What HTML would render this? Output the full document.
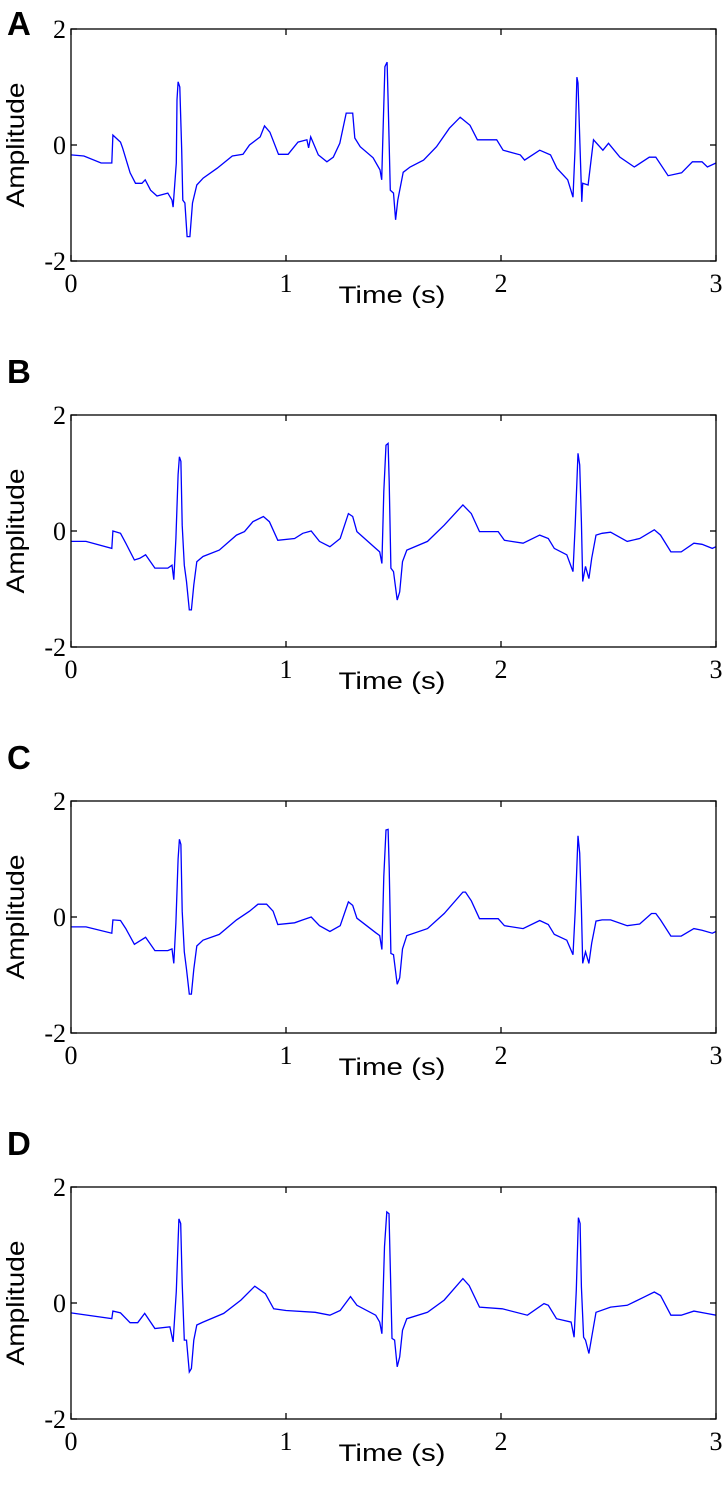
<!DOCTYPE html>
<html><head><meta charset="utf-8"><style>
html,body{margin:0;padding:0;background:#fff;}
svg{display:block;}
</style></head><body>
<svg id="fig" width="724" height="1490" viewBox="0 0 724 1490" xmlns="http://www.w3.org/2000/svg"></svg>
<script>
const panelLabels = ["A","B","C","D"];
const xTicks = [0,1,2,3];
const yTicks = [-2,0,2];
const timeA = [0,0.06,0.14,0.19,0.195,0.23,0.24,0.275,0.30,0.33,0.345,0.37,0.40,0.45,0.47,0.475,0.49,0.493,0.498,0.506,0.515,0.52,0.53,0.54,0.553,0.565,0.585,0.615,0.68,0.75,0.80,0.83,0.88,0.90,0.925,0.965,1.01,1.056,1.097,1.105,1.115,1.15,1.19,1.22,1.25,1.28,1.31,1.32,1.345,1.405,1.437,1.445,1.45,1.46,1.47,1.475,1.485,1.50,1.51,1.52,1.545,1.577,1.64,1.70,1.76,1.81,1.856,1.89,1.98,2.01,2.09,2.11,2.18,2.23,2.26,2.31,2.335,2.344,2.353,2.358,2.367,2.376,2.38,2.405,2.43,2.474,2.50,2.553,2.62,2.69,2.72,2.777,2.84,2.89,2.935,2.96,3.0];
const ampA = [-0.17,-0.19,-0.31,-0.31,0.17,0.05,-0.05,-0.48,-0.66,-0.66,-0.6,-0.78,-0.88,-0.83,-0.95,-1.07,-0.31,0.78,1.09,1.0,-0.09,-0.95,-1.0,-1.58,-1.58,-1.0,-0.69,-0.57,-0.40,-0.19,-0.16,0,0.14,0.33,0.22,-0.16,-0.16,0.05,0.09,-0.05,0.14,-0.17,-0.29,-0.21,0.03,0.55,0.55,0.12,-0.03,-0.22,-0.43,-0.6,0.09,1.35,1.43,0.78,-0.78,-0.83,-1.29,-0.95,-0.47,-0.38,-0.26,-0.03,0.29,0.48,0.34,0.09,0.09,-0.09,-0.17,-0.26,-0.09,-0.17,-0.40,-0.60,-0.90,-0.09,1.17,1.07,0.03,-0.98,-0.66,-0.69,0.09,-0.09,0.03,-0.21,-0.38,-0.21,-0.21,-0.53,-0.48,-0.29,-0.29,-0.38,-0.31];
const timeB = [0,0.07,0.19,0.195,0.23,0.255,0.295,0.32,0.347,0.39,0.45,0.47,0.478,0.488,0.498,0.504,0.511,0.517,0.527,0.537,0.55,0.56,0.571,0.585,0.614,0.69,0.77,0.807,0.846,0.895,0.923,0.962,1.04,1.078,1.117,1.156,1.204,1.252,1.29,1.31,1.33,1.417,1.436,1.446,1.455,1.465,1.475,1.48,1.488,1.5,1.517,1.529,1.542,1.562,1.658,1.736,1.823,1.862,1.9,1.987,2.016,2.103,2.18,2.22,2.248,2.306,2.335,2.345,2.358,2.366,2.374,2.38,2.393,2.409,2.422,2.442,2.47,2.51,2.587,2.645,2.713,2.742,2.79,2.838,2.897,2.935,2.983,3.0];
const ampB = [-0.18,-0.18,-0.30,0,-0.04,-0.21,-0.5,-0.47,-0.41,-0.64,-0.64,-0.59,-0.84,-0.13,0.97,1.28,1.2,0.1,-0.59,-0.87,-1.36,-1.36,-0.93,-0.53,-0.44,-0.33,-0.07,-0.01,0.16,0.25,0.16,-0.16,-0.13,-0.04,0,-0.18,-0.27,-0.13,0.3,0.25,-0.01,-0.3,-0.36,-0.56,0.68,1.48,1.51,0.85,-0.64,-0.7,-1.19,-1.05,-0.53,-0.33,-0.18,0.1,0.45,0.3,-0.01,-0.01,-0.16,-0.21,-0.07,-0.13,-0.3,-0.41,-0.7,0.1,1.34,1.14,0.16,-0.87,-0.61,-0.82,-0.47,-0.07,-0.04,-0.02,-0.18,-0.13,0.02,-0.07,-0.36,-0.36,-0.21,-0.23,-0.3,-0.27];
const timeC = [0,0.07,0.19,0.195,0.23,0.255,0.295,0.347,0.39,0.45,0.47,0.478,0.488,0.498,0.504,0.511,0.517,0.527,0.537,0.55,0.56,0.571,0.585,0.614,0.69,0.77,0.83,0.87,0.91,0.94,0.962,1.04,1.078,1.117,1.156,1.204,1.252,1.29,1.31,1.33,1.417,1.436,1.446,1.455,1.465,1.475,1.48,1.488,1.5,1.517,1.529,1.542,1.562,1.658,1.736,1.823,1.835,1.862,1.9,1.987,2.016,2.103,2.18,2.22,2.248,2.306,2.335,2.345,2.358,2.366,2.374,2.38,2.393,2.409,2.422,2.442,2.47,2.51,2.587,2.645,2.7,2.72,2.742,2.79,2.838,2.897,2.935,2.983,3.0];
const ampC = [-0.17,-0.17,-0.28,-0.05,-0.06,-0.2,-0.47,-0.35,-0.58,-0.58,-0.55,-0.8,-0.1,1.0,1.34,1.25,0.1,-0.6,-0.9,-1.33,-1.33,-0.9,-0.5,-0.4,-0.3,-0.05,0.1,0.22,0.22,0.1,-0.13,-0.1,-0.05,0,-0.15,-0.25,-0.15,0.26,0.2,-0.02,-0.27,-0.32,-0.56,0.7,1.5,1.51,0.85,-0.63,-0.65,-1.16,-1.05,-0.55,-0.32,-0.2,0.06,0.43,0.43,0.28,-0.03,-0.03,-0.15,-0.2,-0.06,-0.13,-0.3,-0.4,-0.65,0.1,1.4,1.1,0.15,-0.8,-0.6,-0.8,-0.45,-0.07,-0.05,-0.05,-0.15,-0.12,0.06,0.06,-0.05,-0.33,-0.33,-0.2,-0.23,-0.28,-0.25];
const timeD = [0,0.19,0.195,0.23,0.275,0.31,0.343,0.39,0.46,0.475,0.49,0.502,0.51,0.517,0.527,0.537,0.55,0.56,0.571,0.585,0.614,0.71,0.79,0.855,0.904,0.943,1.0,1.136,1.204,1.252,1.3,1.33,1.417,1.436,1.446,1.458,1.469,1.479,1.487,1.493,1.505,1.517,1.529,1.542,1.562,1.658,1.736,1.823,1.852,1.9,2.006,2.123,2.2,2.22,2.258,2.326,2.34,2.35,2.36,2.368,2.374,2.384,2.393,2.409,2.422,2.442,2.51,2.587,2.664,2.713,2.742,2.79,2.838,2.897,2.955,3.0];
const ampD = [-0.17,-0.27,-0.14,-0.17,-0.34,-0.34,-0.18,-0.44,-0.41,-0.67,0.2,1.45,1.37,0.33,-0.64,-0.64,-1.19,-1.13,-0.64,-0.38,-0.33,-0.18,0.05,0.29,0.16,-0.1,-0.13,-0.16,-0.21,-0.13,0.11,-0.04,-0.21,-0.33,-0.53,0.97,1.57,1.54,0.33,-0.61,-0.64,-1.1,-0.93,-0.47,-0.27,-0.16,0.05,0.42,0.3,-0.07,-0.1,-0.21,-0.01,-0.04,-0.27,-0.33,-0.59,0.22,1.47,1.37,0.28,-0.59,-0.64,-0.87,-0.59,-0.16,-0.07,-0.04,0.1,0.19,0.13,-0.21,-0.21,-0.14,-0.18,-0.21];
const seriesTime = [timeA,timeB,timeC,timeD];
const seriesAmp = [ampA,ampB,ampC,ampD];

const NS="http://www.w3.org/2000/svg";
const svg=document.getElementById('fig');
const X0=71,X1=716,H=232,TOP0=29,STEP=386;
function mk(tag,attrs,parent){const e=document.createElementNS(NS,tag);for(const k in attrs)e.setAttribute(k,attrs[k]);(parent||svg).appendChild(e);return e;}
panelLabels.forEach((lab,k)=>{
  const top=TOP0+k*STEP;
  const xs=t=>X0+(t-0)/3*(X1-X0);
  const ys=v=>top+H/2-v*(H/4);
  const g=mk('g',{});
  
  
  const letter=mk('text',{x:7,y:(k===0?35:top-32),'font-family':'Liberation Sans, Arial, sans-serif','font-weight':'bold','font-size':33,fill:'#000'},g);
  letter.textContent=lab;
  
  
  // line
  const pts=seriesTime[k].map((t,i)=>xs(t).toFixed(1)+','+ys(seriesAmp[k][i]).toFixed(1)).join(' ');
  const pl=mk('polyline',{points:pts,fill:'none',stroke:'#0000ff','stroke-width':1.3,'stroke-linejoin':'miter'},g);
  
  
  const box=mk('rect',{x:X0,y:top,width:X1-X0,height:H,fill:'none',stroke:'#000','stroke-width':1.3},g);
  
  
  yTicks.forEach(v=>{
    mk('line',{x1:X0,x2:X0+6,y1:ys(v),y2:ys(v),stroke:'#000','stroke-width':1.3},g);
    mk('line',{x1:X1,x2:X1-6,y1:ys(v),y2:ys(v),stroke:'#000','stroke-width':1.3},g);
    const tl=mk('text',{x:66,y:ys(v)+9,'text-anchor':'end','font-family':'Liberation Serif, Times New Roman, serif','font-size':26,fill:'#000'},g);
    tl.textContent=String(v);
    
    
  });
  xTicks.forEach(t=>{
    mk('line',{x1:xs(t),x2:xs(t),y1:top+H,y2:top+H-6,stroke:'#000','stroke-width':1.3},g);
    mk('line',{x1:xs(t),x2:xs(t),y1:top,y2:top+6,stroke:'#000','stroke-width':1.3},g);
    const tl=mk('text',{x:xs(t),y:top+H+31,'text-anchor':'middle','font-family':'Liberation Serif, Times New Roman, serif','font-size':26,fill:'#000'},g);
    tl.textContent=String(t);
    
    
  });
  const xt=mk('text',{x:392,y:top+H+42,'text-anchor':'middle','font-family':'Liberation Sans, Arial, sans-serif','font-size':24,textLength:107,lengthAdjust:'spacingAndGlyphs',fill:'#000'},g);
  xt.textContent='Time (s)';
  
  
  const yt=mk('text',{x:0,y:0,'text-anchor':'middle','font-family':'Liberation Sans, Arial, sans-serif','font-size':25,textLength:125,lengthAdjust:'spacingAndGlyphs',fill:'#000',transform:'translate(24,'+(top+116)+') rotate(-90)'},g);
  yt.textContent='Amplitude';
  
  
});
</script>
</body></html>
